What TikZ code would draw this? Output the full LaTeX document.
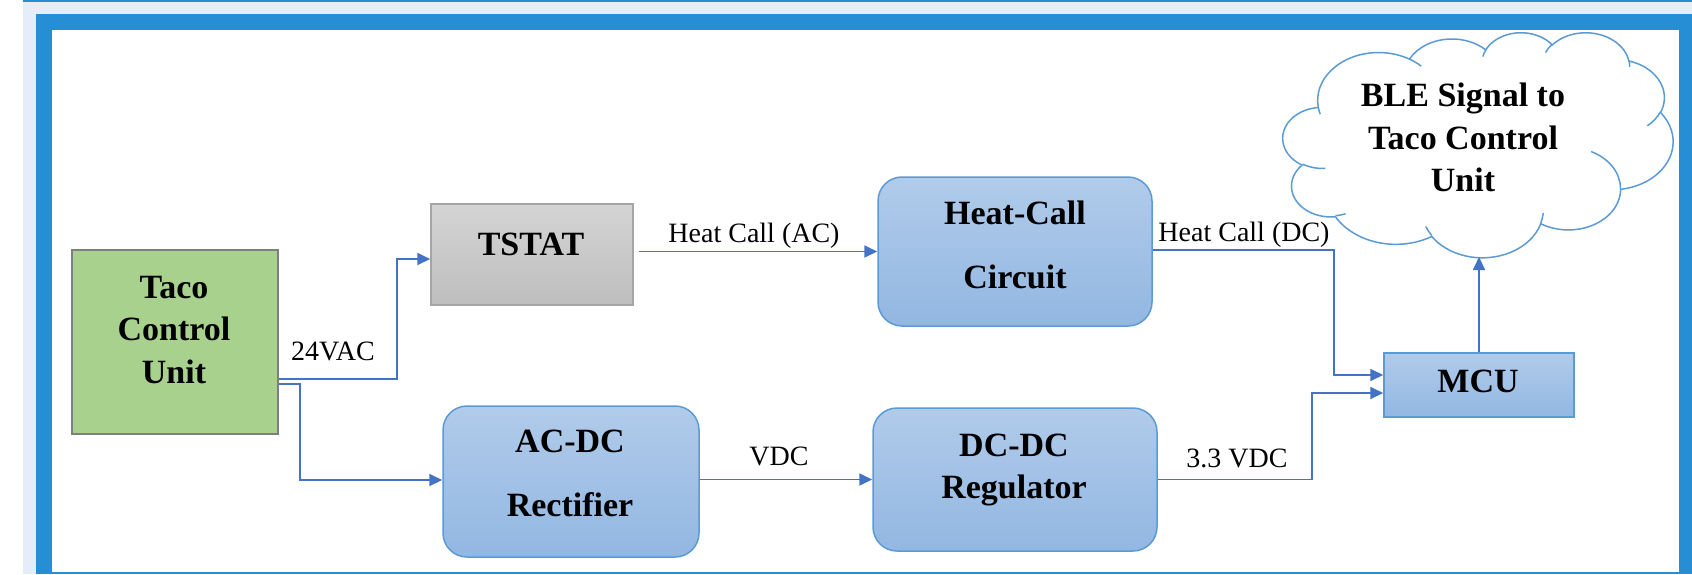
\documentclass[tikz,border=0pt]{standalone}
\usepackage{fontspec}
\setmainfont{Liberation Serif}
\usetikzlibrary{arrows.meta}
\definecolor{frameblue}{RGB}{38,142,212}
\definecolor{bandblue}{RGB}{229,238,248}
\definecolor{tacogreen}{RGB}{169,209,142}
\definecolor{boxgray}{RGB}{127,127,127}
\definecolor{tstatedge}{RGB}{165,165,165}
\definecolor{tstattop}{RGB}{212,212,212}
\definecolor{tstatbot}{RGB}{190,190,190}
\definecolor{bluetop}{RGB}{177,203,234}
\definecolor{bluebot}{RGB}{146,183,226}
\definecolor{blueedge}{RGB}{91,155,213}
\definecolor{connblue}{RGB}{68,114,196}
\begin{document}
\begin{tikzpicture}[x=1pt,y=-1pt,
  declare function={pa(\ang,\rx,\ry)=\ang+mod(atan2(\rx*sin(\ang),\ry*cos(\ang))-\ang+540,360)-180;},
  boxtext/.style={font=\fontsize{34}{42.5}\selectfont\bfseries, align=center, inner sep=0pt},
  widetext/.style={font=\fontsize{34}{64}\selectfont\bfseries, align=center, inner sep=0pt},
  lbl/.style={font=\fontsize{28}{34}\selectfont, inner sep=0pt},
  conn/.style={draw=connblue, line width=1.8pt, -{Triangle[length=13pt,width=12pt]}},
  bluebox/.style={draw=blueedge, line width=1.5pt, top color=bluetop, bottom color=bluebot, rounded corners=24pt, inner sep=0pt},
  mcubox/.style={draw=blueedge, line width=1.5pt, top color=bluetop, bottom color=bluebot, inner sep=0pt},
  tacobox/.style={draw=boxgray, line width=1.5pt, fill=tacogreen, inner sep=0pt},
  tstatbox/.style={draw=tstatedge, line width=1.5pt, top color=tstattop, bottom color=tstatbot, inner sep=0pt},
  cloudline/.style={draw=blueedge, line width=1.5pt}
]
\useasboundingbox (0,0) rectangle (1692,574);
% page frame
\fill[white] (0,0) rectangle (1692,574);
\fill[bandblue] (23,1) rectangle (1692,574);
\fill[frameblue] (23,0) rectangle (1692,1.5);
\fill[frameblue] (36,14) rectangle (1692,574);
\fill[white] (52,30) rectangle (1679,572);

% boxes
\node[tacobox, minimum width=206pt, minimum height=184pt] (taco) at (175,342) {};
\node[boxtext] (tacot) at (174,330) {Taco\\Control\\Unit};

\node[tstatbox, minimum width=202pt, minimum height=101pt] (tstat) at (532,254.5) {};
\node[boxtext] (tstatt) at (531,244) {TSTAT};

\node[bluebox, minimum width=274pt, minimum height=149pt] (hc) at (1015,251.5) {};
\node[widetext] (hct) at (1015,244.5) {Heat-Call\\Circuit};

\node[bluebox, minimum width=256pt, minimum height=151pt] (acdc) at (571,481.5) {};
\node[widetext] (acdct) at (570,473.5) {AC-DC\\Rectifier};

\node[bluebox, minimum width=284pt, minimum height=143pt] (dcdc) at (1015,479.5) {};
\node[boxtext, font=\fontsize{34}{41.7}\selectfont\bfseries] (dcdct) at (1014,470) {DC-DC\\Regulator};

\node[mcubox, minimum width=190pt, minimum height=64pt] (mcu) at (1479,385) {};
\node[boxtext] (mcut) at (1478,381.5) {MCU};

% cloud (Office cloud outline)
\begin{scope}[shift={(1283,32)}, x=0.0902778pt, y=-0.0520833pt]
\draw[cloudline, fill=white] (390,1437)
  arc[x radius=675.3, y radius=919.0, start angle={pa(-190.48748,675.3,919.0)}, end angle={pa(-66.70695,675.3,919.0)}]
  arc[x radius=533.3, y radius=726.7, start angle={pa(-144.10238,533.3,726.7)}, end angle={pa(-54.15715,533.3,726.7)}]
  arc[x radius=436.5, y radius=594.5, start angle={pa(-145.80792,436.5,594.5)}, end angle={pa(-46.0849,436.5,594.5)}]
  arc[x radius=485.7, y radius=659.5, start angle={pa(-130.98607,485.7,659.5)}, end angle={pa(-13.74434,485.7,659.5)}]
  arc[x radius=533.3, y radius=727.3, start angle={pa(-78.70888,533.3,727.3)}, end angle={pa(30.31804,533.3,727.3)}]
  arc[x radius=677.5, y radius=922.0, start angle={pa(-46.26725,677.5,922.0)}, end angle={pa(84.00175,677.5,922.0)}]
  arc[x radius=578.5, y radius=786.7, start angle={pa(0.62502,578.5,786.7)}, end angle={pa(114.65835,578.5,786.7)}]
  arc[x radius=675.2, y radius=921.5, start angle={pa(22.4516,675.2,921.5)}, end angle={pa(137.62415,675.2,921.5)}]
  arc[x radius=772.0, y radius=1054.3, start angle={pa(66.24263,772.0,1054.3)}, end angle={pa(141.95365,772.0,1054.3)}]
  arc[x radius=436.0, y radius=591.8, start angle={pa(-274.94208,436.0,591.8)}, end angle={pa(-128.20651,436.0,591.8)}]
  arc[x radius=434.5, y radius=594.5, start angle={pa(-246.8285,434.5,594.5)}, end angle={pa(-94.30965,434.5,594.5)}]
  -- cycle;
\draw[cloudline]
  (469.3,2617.7) arc[x radius=434.5, y radius=594.5, start angle={pa(86.742,434.5,594.5)}, end angle={pa(113.1715,434.5,594.5)}]
  (692.8,3489.9) arc[x radius=436.0, y radius=591.8, start angle={pa(73.61047,436.0,591.8)}, end angle={pa(85.05794,436.0,591.8)}]
  (1647.8,3909.0) arc[x radius=675.2, y radius=921.5, start angle={pa(137.62415,675.2,921.5)}, end angle={pa(151.70525,675.2,921.5)}]
  (2882.7,3475.1) arc[x radius=675.2, y radius=921.5, start angle={pa(6.45327,675.2,921.5)}, end angle={pa(22.45162,675.2,921.5)}]
  (3412.9,2295.4) arc[x radius=578.5, y radius=786.7, start angle={pa(-70.29235,578.5,786.7)}, end angle={pa(0.62502,578.5,786.7)}]
  (4179.8,1535.4) arc[x radius=533.3, y radius=727.3, start angle={pa(30.31803,533.3,727.3)}, end angle={pa(58.06953,533.3,727.3)}]
  (3832.4,542.6) arc[x radius=485.7, y radius=659.5, start angle={pa(-13.74433,485.7,659.5)}, end angle={pa(1.11457,485.7,659.5)}]
  (2907.8,395.2) arc[x radius=485.7, y radius=659.5, start angle={pa(-149.18145,485.7,659.5)}, end angle={pa(-130.98608,485.7,659.5)}]
  (2214.1,472.0) arc[x radius=436.5, y radius=594.5, start angle={pa(-163.49427,436.5,594.5)}, end angle={pa(-145.80792,436.5,594.5)}]
  (1400.0,519.2) arc[x radius=675.3, y radius=919.0, start angle={pa(-66.70695,675.3,919.0)}, end angle={pa(-54.3876,675.3,919.0)}]
  (412.7,1578.9) arc[x radius=675.3, y radius=919.0, start angle={pa(157.65435,675.3,919.0)}, end angle={pa(169.51252,675.3,919.0)}];
\end{scope}
\node[boxtext] (ble) at (1463,137.5) {BLE Signal to\\Taco Control\\Unit};
\coordinate (cloudb) at (1480,257);

% labels
\node[lbl] (l24) at (333,351) {24VAC};
\node[lbl] (lhac) at (754,236) {Heat Call (AC)};
\node[lbl] (lhdc) at (1244,234.5) {Heat Call (DC)};
\node[lbl] (lvdc) at (779,456) {VDC};
\node[lbl] (l33) at (1237,458.5) {3.3 VDC};

% connectors
\draw[conn] ([yshift=-37pt]taco.east) -- ++(118,0) |- ([yshift=-4.5pt]tstat.west);
\draw[conn] ([yshift=-42pt]taco.east) -- ++(21,0) |- ([yshift=1.5pt]acdc.west);
\draw[conn, shorten <=5pt] (hc.west -| tstat.east) -- (hc.west);
\draw[conn] ([yshift=1.5pt]hc.east) -- ++(181,0) |- ([yshift=10pt]mcu.west);
\draw[conn] (dcdc.west -| acdc.east) -- (dcdc.west);
\draw[conn] (dcdc.east) -- ++(154,0) |- ([yshift=-8pt]mcu.west);
\draw[conn] (mcu.north) -- (mcu.north |- cloudb);
\end{tikzpicture}
\end{document}
